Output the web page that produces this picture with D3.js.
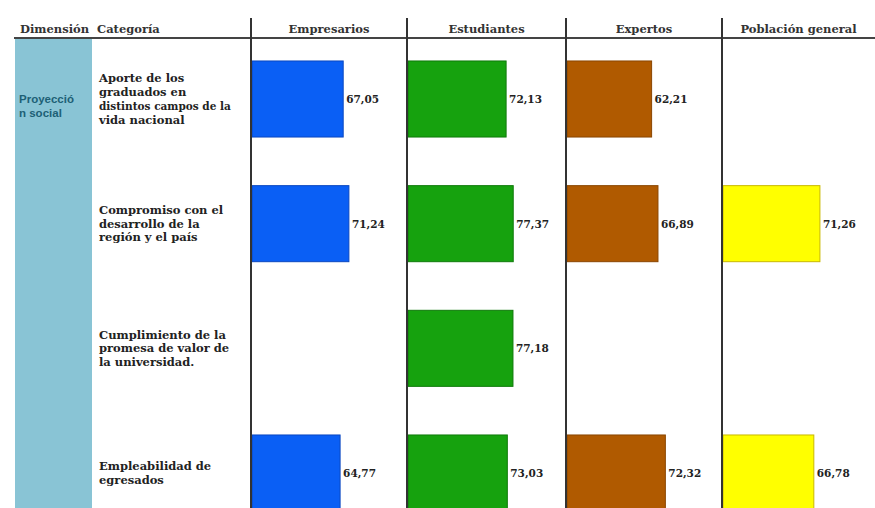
<!DOCTYPE html>
<html>
<head>
<meta charset="utf-8">
<script src="https://cdn.jsdelivr.net/npm/d3@7/dist/d3.min.js"></script>
<style>
  html, body { margin: 0; padding: 0; background: #fff; }
  svg { display: block; }
</style>
</head>
<body>
<svg id="chart" width="875" height="508"></svg>
<script>
// ---- data ----
const dimension = "Proyección social";
const headers = ["Dimensión", "Categoría"];
const groups = ["Empresarios", "Estudiantes", "Expertos", "Población general"];
const categories = [
  "Aporte de los graduados en distintos campos de la vida nacional",
  "Compromiso con el desarrollo de la región y el país",
  "Cumplimiento de la promesa de valor de la universidad.",
  "Empleabilidad de egresados"
];
const categoryLines = [
  ["Aporte de los", "graduados en", "distintos campos de la", "vida nacional"],
  ["Compromiso con el", "desarrollo de la", "región y el país"],
  ["Cumplimiento de la", "promesa de valor de", "la universidad."],
  ["Empleabilidad de", "egresados"]
];
const empresarios = [67.05, 71.24, null, 64.77];
const estudiantes = [72.13, 77.37, 77.18, 73.03];
const expertos = [62.21, 66.89, null, 72.32];
const poblacion = [null, 71.26, null, 66.78];
const seriesValues = [empresarios, estudiantes, expertos, poblacion];

// ---- layout ----
const W = 875, H = 508;
const svg = d3.select("#chart");
const serif = "'DejaVu Serif', serif";
const colors = d3.scaleOrdinal(groups, ["#0a5ff5", "#16a20e", "#b05a00", "#ffff00"]);
const strokes = d3.scaleOrdinal(groups, ["#0a47c0", "#0f7a0a", "#8a4600", "#c9b800"]);
const colX = d3.scaleOrdinal(groups, [251, 407, 566, 722]);
const colW = d3.scaleOrdinal(groups, [156, 159, 156, 153]);
const x = d3.scaleLinear().domain([0, 100]).range([0, 136]);
const y = d3.scaleBand().domain(categories).range([36.67, 535.33])
  .paddingInner(0.39).paddingOuter(0.195);
const fmt = d3.formatLocale({decimal: ",", thousands: ".", grouping: [3], currency: ["", ""]}).format(".2f");

// dimension cell
svg.append("rect").attr("x", 15).attr("y", 39).attr("width", 77).attr("height", H - 39)
  .attr("fill", "#89c4d5");
svg.append("defs").append("clipPath").attr("id", "dimclip")
  .append("rect").attr("x", 15).attr("y", 39).attr("width", 77).attr("height", H - 39);
const dimLines = ["Proyecció", "n social"];
svg.append("g").attr("clip-path", "url(#dimclip)")
  .selectAll("text").data(dimLines).join("text")
  .attr("x", 19).attr("y", (d, i) => 103 + i * 14)
  .attr("font-family", "'Liberation Sans', Arial, sans-serif").attr("font-weight", "bold")
  .attr("font-size", 11.5).attr("fill", "#1d6075").text(d => d);

// header
const hdrSize = 11.5;
svg.append("text").attr("x", 20).attr("y", 33).attr("font-family", serif)
  .attr("font-weight", "bold").attr("font-size", hdrSize).attr("fill", "#333").text(headers[0]);
svg.append("text").attr("x", 97).attr("y", 33).attr("font-family", serif)
  .attr("font-weight", "bold").attr("font-size", hdrSize).attr("fill", "#333").text(headers[1]);
svg.selectAll("text.hdr").data(groups).join("text").attr("class", "hdr")
  .attr("x", d => colX(d) + colW(d) / 2).attr("y", 33).attr("text-anchor", "middle")
  .attr("font-family", serif).attr("font-weight", "bold").attr("font-size", hdrSize)
  .attr("fill", "#333").text(d => d);

// category labels
const catG = svg.append("g");
categories.forEach((c, i) => {
  const lines = categoryLines[i];
  const cy = y(c) + y.bandwidth() / 2;
  const lh = 13.8;
  const top = cy - (lines.length - 1) * lh / 2;
  catG.selectAll(null).data(lines).join("text")
    .attr("x", 99).attr("y", (d, j) => top + j * lh + 4)
    .attr("font-family", serif).attr("font-weight", "bold")
    .attr("font-size", d => d.length > 20 ? 10.5 : 11.5)
    .attr("fill", "#222").text(d => d);
});

// bars
groups.forEach((g, gi) => {
  const vals = categories.map((c, i) => ({c, v: seriesValues[gi][i]})).filter(d => d.v != null);
  const gg = svg.append("g");
  gg.selectAll("rect").data(vals).join("rect")
    .attr("x", colX(g) + 1).attr("y", d => y(d.c))
    .attr("width", d => x(d.v)).attr("height", y.bandwidth())
    .attr("fill", colors(g)).attr("stroke", strokes(g)).attr("stroke-width", 1);
  gg.selectAll("text").data(vals).join("text")
    .attr("x", d => colX(g) + 1 + x(d.v) + 3)
    .attr("y", d => y(d.c) + y.bandwidth() / 2 + 4)
    .attr("font-family", serif).attr("font-weight", "bold").attr("font-size", 10.5)
    .attr("fill", "#222").text(d => fmt(d.v));
});

// grid lines
svg.append("line").attr("x1", 14).attr("x2", W).attr("y1", 38).attr("y2", 38)
  .attr("stroke", "#444").attr("stroke-width", 2);
svg.selectAll("line.vsep").data(groups).join("line").attr("class", "vsep")
  .attr("x1", d => colX(d)).attr("x2", d => colX(d)).attr("y1", 18).attr("y2", H)
  .attr("stroke", "#333").attr("stroke-width", 2);
</script>
</body>
</html>
